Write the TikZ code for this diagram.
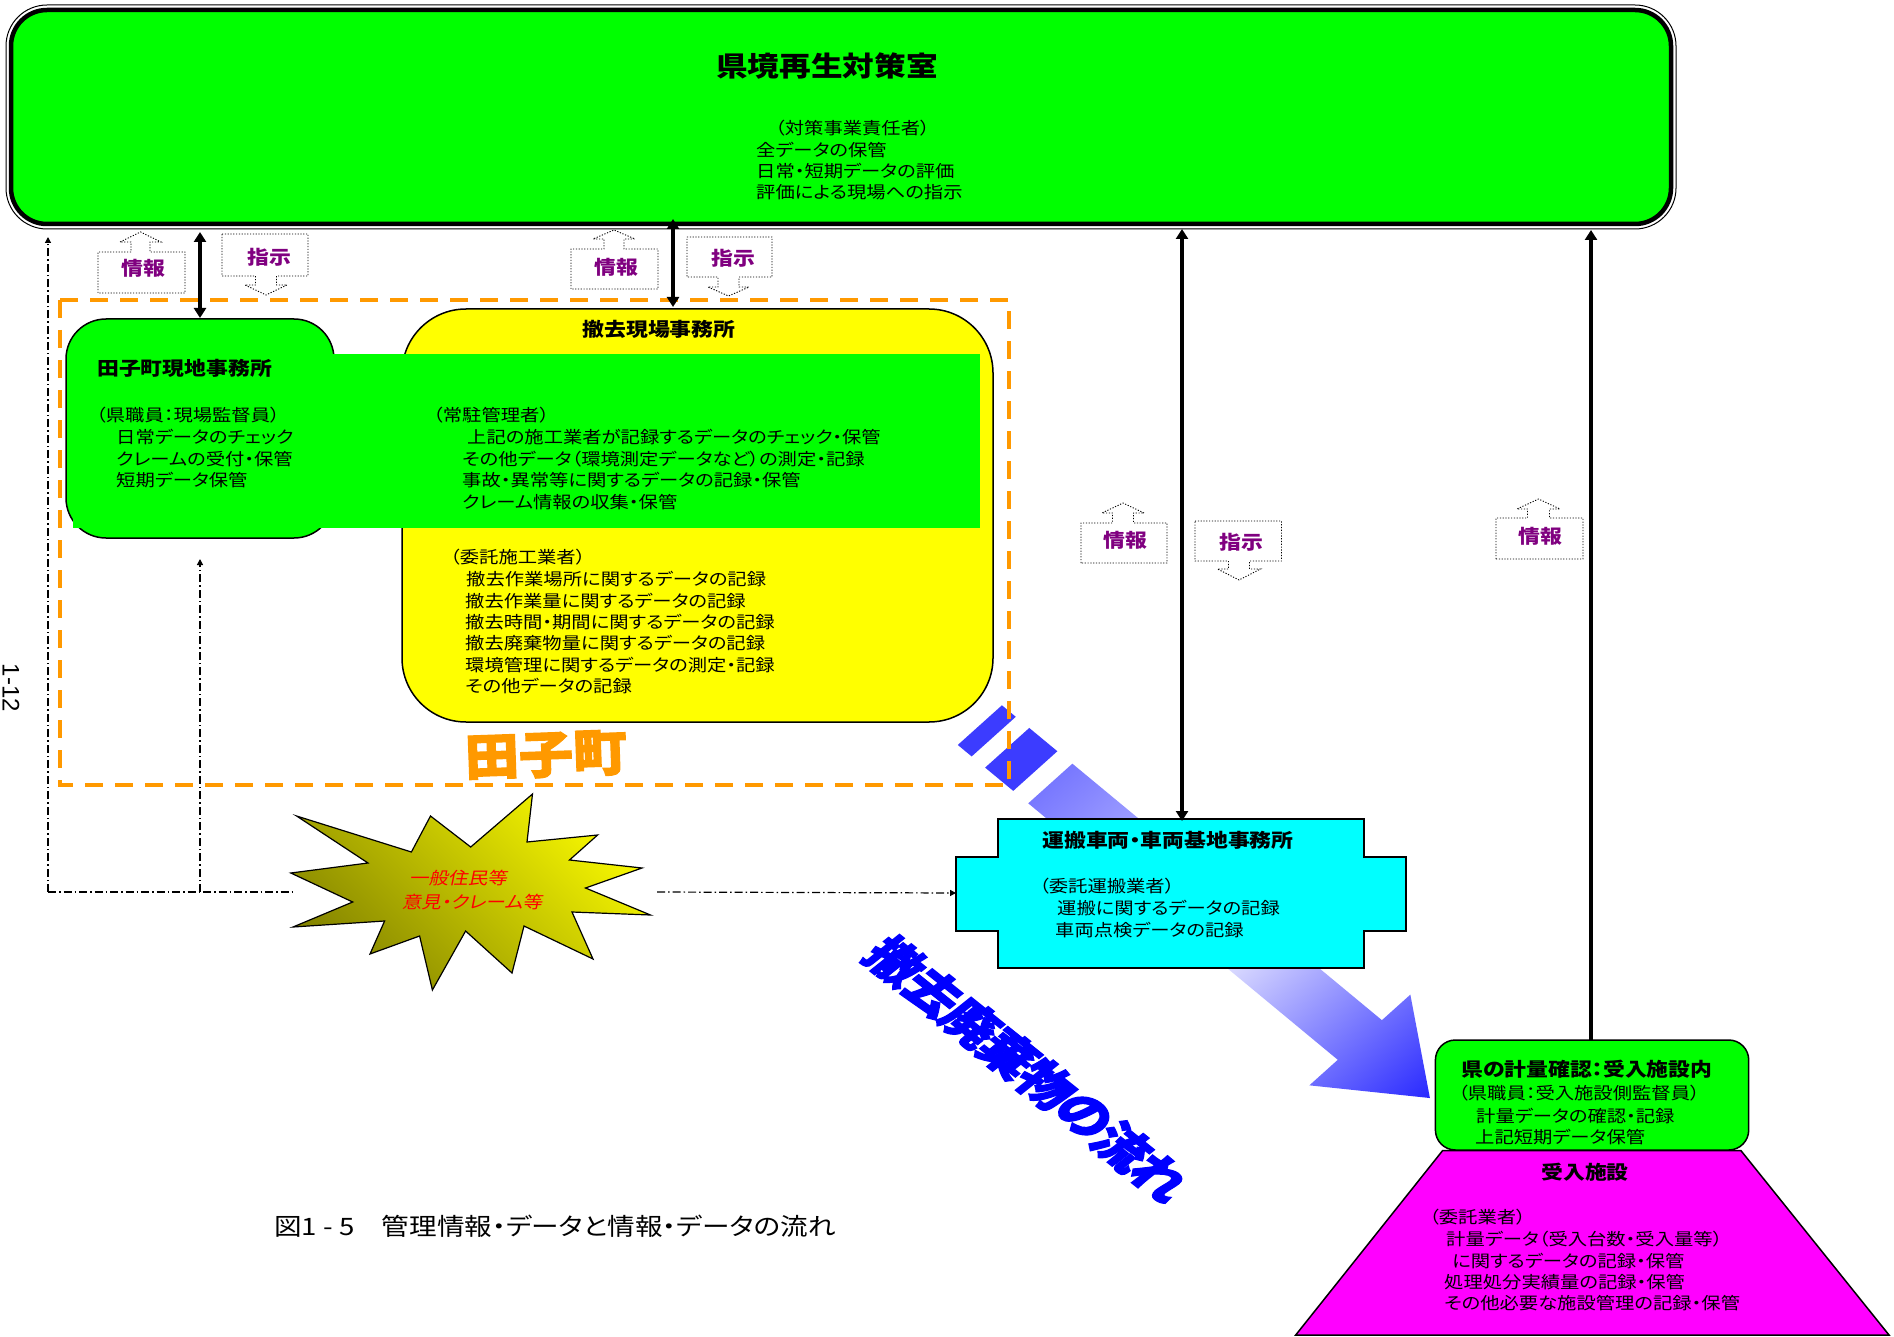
\documentclass[tikz,border=0pt]{standalone}
\usepackage{fontspec}
\setmainfont{Noto Sans CJK JP}[FakeStretch=1.15,RawFeature=+palt]
\newfontfamily\jpit{Noto Sans CJK JP}[FakeStretch=1.15,FakeSlant=0.2,RawFeature=+palt]
\newfontfamily\jpheavy{Noto Sans CJK JP}[FakeStretch=1.08,RawFeature=+palt,BoldFeatures={FakeBold=2.5}]
\newfontfamily\jpheavyplain{Noto Sans CJK JP}[RawFeature=+palt,BoldFeatures={FakeBold=2.5}]
\newfontfamily\latinsans{Liberation Sans}
\usetikzlibrary{arrows.meta}
\definecolor{gr}{RGB}{0,255,0}
\definecolor{yel}{RGB}{255,255,0}
\definecolor{cyn}{RGB}{0,255,255}
\definecolor{mag}{RGB}{255,0,255}
\definecolor{org}{RGB}{255,153,0}
\definecolor{purp}{RGB}{128,0,128}
\definecolor{burstlight}{RGB}{248,248,0}
\definecolor{burstdark}{RGB}{133,133,0}
\definecolor{arrA}{RGB}{120,120,255}
\definecolor{arrB}{RGB}{228,228,255}
\definecolor{arrC}{RGB}{40,40,255}
\definecolor{stripeblue}{RGB}{60,60,255}
\newcommand\mycallup[9]{\draw[callout] (#1,#4) -- (#1,#3) -- ({#5-#6},#3) -- ({#5-#6},#8) -- ({#5-#7},#8) -- (#5,#9) -- ({#5+#7},#8) -- ({#5+#6},#8) -- ({#5+#6},#3) -- (#2,#3) -- (#2,#4) -- cycle;}
\newcommand\mycalldown[9]{\draw[callout] (#1,#3) -- (#2,#3) -- (#2,#4) -- ({#5+#6},#4) -- ({#5+#6},#8) -- ({#5+#7},#8) -- (#5,#9) -- ({#5-#7},#8) -- ({#5-#6},#8) -- ({#5-#6},#4) -- (#1,#4) -- cycle;}
\begin{document}
\begin{tikzpicture}[x=1pt,y=-1pt,
  bodytxt/.style={anchor=base west,inner sep=0pt,font=\fontsize{16.8}{20}\selectfont},
  headtxt/.style={inner sep=0pt,font=\bfseries\fontsize{19}{22}\selectfont},
  calltxt/.style={inner sep=0pt,text=purp,font=\bfseries\fontsize{19}{22}\selectfont},
  flowchar/.style={inner sep=0pt,text=blue,xscale=1.25,rotate=-45,font=\jpheavyplain\bfseries\fontsize{45}{45}\selectfont},
  callout/.style={draw=black,line width=0.9pt,dash pattern=on 1.2pt off 1.6pt,fill=white},
  bigarrow/.style={line width=3.5pt,{Triangle[width=12pt,length=10pt]}-{Triangle[width=12pt,length=10pt]}},
  uparrow/.style={line width=3.5pt,-{Triangle[width=12pt,length=10pt]}},
  dashdot/.style={line width=1.2pt,dash pattern=on 8pt off 3pt on 1.5pt off 3pt,-{Triangle[width=6pt,length=6pt]}},
  dashdotplain/.style={line width=1.2pt,dash pattern=on 8pt off 3pt on 1.5pt off 3pt},
  orangedash/.style={draw=org,line width=4pt,dash pattern=on 18pt off 12pt},
  boxline/.style={draw=black,line width=1.5pt}
]
\useasboundingbox (0,0) rectangle (1894,1337);
\fill[white] (0,0) rectangle (1894,1337);

% top box
\draw[black,line width=1pt,rounded corners=41] (6,5) rectangle (1676,229);
\draw[fill=gr,draw=black,line width=4.5pt,rounded corners=36] (11,10) rectangle (1671,224);
\node[inner sep=0pt,font=\bfseries\fontsize{27.5}{30}\selectfont] (title) at (827,66) {県境再生対策室};
\node[bodytxt] (top1) at (775,135) {（対策事業責任者）};
\node[bodytxt] (top2) at (756,157) {全データの保管};
\node[bodytxt] (top3) at (756,178) {日常・短期データの評価};
\node[bodytxt] (top4) at (756,199) {評価による現場への指示};

% blue flow arrow
\begin{scope}[transform canvas={cm={0.770,-0.638,0.748,0.672,(1050.3pt,-783.5pt)}}]
  \shade[left color=arrA,right color=arrC,middle color=arrB] (0,-29.5) -- (402,-29.5) -- (402,-67.5) -- (493,0) -- (402,67.5) -- (402,29.5) -- (0,29.5) -- cycle;
  \fill[stripeblue] (-56,-29.5) rectangle (-19.5,29.5);
  \fill[stripeblue] (-91.5,-29.5) rectangle (-73.5,29.5);
\end{scope}

% Tagocho dashed area
\draw[orangedash] (60,300) rectangle (1009,785);

% Tagocho office and removal site office
\draw[boxline,fill=gr,rounded corners=40] (66,319) rectangle (334,538);
\draw[boxline,fill=yel,rounded corners=64] (402,309) rectangle (993,722);
\fill[gr] (73,354) rectangle (980,528);

\node[headtxt,anchor=west] (tagoH) at (97,368) {田子町現地事務所};
\node[bodytxt] (tg1) at (96,421) {（県職員：現場監督員）};
\node[bodytxt] (tg2) at (116,443) {日常データのチェック};
\node[bodytxt] (tg3) at (116,465) {クレームの受付・保管};
\node[bodytxt] (tg4) at (116,486) {短期データ保管};

\node[headtxt] (siteH) at (659,329) {撤去現場事務所};
\node[bodytxt] (jc1) at (433,421) {（常駐管理者）};
\node[bodytxt] (jc2) at (467,443) {上記の施工業者が記録するデータのチェック・保管};
\node[bodytxt] (jc3) at (462,465) {その他データ（環境測定データなど）の測定・記録};
\node[bodytxt] (jc4) at (462,486) {事故・異常等に関するデータの記録・保管};
\node[bodytxt] (jc5) at (462,508) {クレーム情報の収集・保管};

\node[bodytxt] (it1) at (450,563) {（委託施工業者）};
\node[bodytxt] (it2) at (466,585) {撤去作業場所に関するデータの記録};
\node[bodytxt] (it3) at (465,607) {撤去作業量に関するデータの記録};
\node[bodytxt] (it4) at (465,628) {撤去時間・期間に関するデータの記録};
\node[bodytxt] (it5) at (465,649) {撤去廃棄物量に関するデータの記録};
\node[bodytxt] (it6) at (465,671) {環境管理に関するデータの測定・記録};
\node[bodytxt] (it7) at (465,692) {その他データの記録};

\node[text=org,inner sep=0pt,rotate=2,font=\jpheavy\bfseries\fontsize{50}{50}\selectfont] (tago) at (546,755) {田子町};

% callouts
\mycallup{98}{185}{252}{293}{140.5}{9.5}{20.5}{242}{232}
\mycalldown{222}{308}{234}{276}{266}{10.5}{21}{285}{295}
\mycallup{571}{658}{249}{289}{614}{10}{21}{239}{230}
\mycalldown{687}{772}{237}{277}{728.5}{10.5}{20.5}{287}{296}
\mycallup{1081}{1167}{523}{563}{1123}{10.5}{21}{513}{503}
\mycalldown{1195}{1281.5}{521}{561}{1239}{10.5}{21.5}{569}{580}
\mycallup{1496}{1583}{518}{559}{1538.5}{11}{21.5}{509}{499}
\node[calltxt] (c1) at (143,268) {情報};
\node[calltxt] (c2) at (269,257) {指示};
\node[calltxt] (c3) at (616,267) {情報};
\node[calltxt] (c4) at (733,258) {指示};
\node[calltxt] (c5) at (1125,540) {情報};
\node[calltxt] (c6) at (1241,542) {指示};
\node[calltxt] (c7) at (1540,536) {情報};

% starburst
\shadedraw[draw=black,line width=1.2pt,top color=burstlight,bottom color=burstdark,shading angle=-45]
 (532.5,794) -- (527,842) -- (597.6,835) -- (569.5,860) -- (642,868) -- (585.5,888) -- (650.5,915) -- (572,912) -- (593,959) -- (524,926) -- (512,973) -- (465.6,931) -- (432.4,990) -- (419.6,936) -- (370,954) -- (384.6,921) -- (293,927) -- (352.7,902) -- (290.8,873) -- (368,863) -- (296.6,816) -- (411.4,852) -- (430.5,816) -- (470.7,847) -- cycle;
\node[text=red,inner sep=0pt,font=\jpit\fontsize{17}{20}\selectfont] (burst1) at (458,878) {一般住民等};
\node[text=red,inner sep=0pt,font=\jpit\fontsize{17}{20}\selectfont] (burst2) at (472,902) {意見・クレーム等};

% transport office
\draw[boxline,fill=cyn] (998,819) -- (1364,819) -- (1364,857) -- (1406,857) -- (1406,931) -- (1364,931) -- (1364,968) -- (998,968) -- (998,931) -- (956,931) -- (956,857) -- (998,857) -- cycle;
\node[headtxt] (cyH) at (1168,840) {運搬車両・車両基地事務所};
\node[bodytxt] (cy1) at (1039,892) {（委託運搬業者）};
\node[bodytxt] (cy2) at (1057,914) {運搬に関するデータの記録};
\node[bodytxt] (cy3) at (1055,936) {車両点検データの記録};

% receiving facility
\draw[boxline,fill=mag] (1442.5,1150.7) -- (1741,1150.7) -- (1889,1335) -- (1295.7,1335) -- cycle;
\draw[boxline,fill=gr,rounded corners=20] (1435.4,1040) rectangle (1748.7,1150);
\node[headtxt] (grH) at (1587,1069) {県の計量確認：受入施設内};
\node[bodytxt] (gr1) at (1458,1099) {（県職員：受入施設側監督員）};
\node[bodytxt] (gr2) at (1476,1122) {計量データの確認・記録};
\node[bodytxt] (gr3) at (1475,1143) {上記短期データ保管};
\node[headtxt] (mgH) at (1585,1172) {受入施設};
\node[bodytxt] (mg1) at (1429,1223) {（委託業者）};
\node[bodytxt] (mg2) at (1446,1245) {計量データ（受入台数・受入量等）};
\node[bodytxt] (mg3) at (1452,1267) {に関するデータの記録・保管};
\node[bodytxt] (mg4) at (1444,1288) {処理処分実績量の記録・保管};
\node[bodytxt] (mg5) at (1444,1309) {その他必要な施設管理の記録・保管};

% thick connectors
\coordinate (a1) at (200,232); \coordinate (a2) at (200,318);
\draw[bigarrow] (a1) -- (a2);
\coordinate (b1) at (673,219); \coordinate (b2) at (673,307);
\draw[bigarrow] (b1) -- (b2);
\coordinate (r1) at (1182,229); \coordinate (r2) at (1182,821);
\draw[bigarrow] (r1) -- (r2);
\coordinate (fr1) at (1591,1040); \coordinate (fr2) at (1591,230);
\draw[uparrow] (fr1) -- (fr2);

% dash-dot connectors
\coordinate (dL1) at (48,892); \coordinate (dL2) at (48,237);
\draw[dashdot] (dL1) -- (dL2);
\coordinate (dM1) at (200,892); \coordinate (dM2) at (200,559);
\draw[dashdot] (dM1) -- (dM2);
\coordinate (burstL) at (292,892);
\draw[dashdotplain] (dL1) -- (burstL);
\coordinate (burstR) at (657,892); \coordinate (cyanL) at (956,893);
\draw[dashdot] (burstR) -- (cyanL);

% big flow text (one glyph per node along the diagonal)
\node[flowchar] (fl1) at (895.5,961.5) {撤};
\node[flowchar] (fl2) at (933.2,992.3) {去};
\node[flowchar] (fl3) at (970.9,1023.1) {廃};
\node[flowchar] (fl4) at (1008.6,1053.9) {棄};
\node[flowchar] (fl5) at (1046.3,1084.7) {物};
\node[flowchar] (fl6) at (1084.0,1115.5) {の};
\node[flowchar] (fl7) at (1121.7,1146.3) {流};
\node[flowchar] (fl8) at (1159.4,1177.1) {れ};

% page number and caption
\node[inner sep=0pt,rotate=-90,font=\latinsans\fontsize{24}{24}\selectfont] (pg) at (11,688) {1-12};
\node[anchor=base west,inner sep=0pt,font=\fontsize{24}{28}\selectfont] (cap) at (274,1235) {図1 - 5　管理情報・データと情報・データの流れ};
\end{tikzpicture}
\end{document}
